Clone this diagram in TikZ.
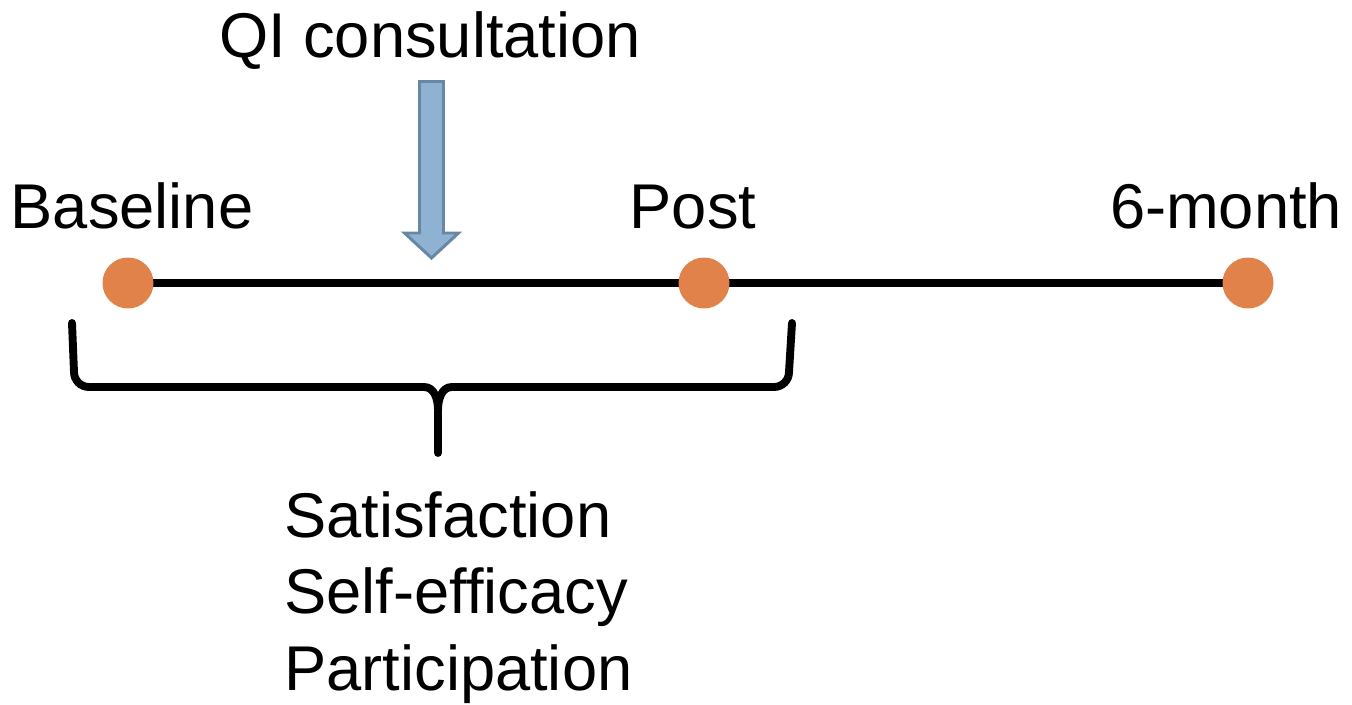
\documentclass[tikz,border=0pt]{standalone}
\usepackage{fontspec}
\setmainfont{Liberation Sans}
\usetikzlibrary{backgrounds}
\definecolor{ink}{HTML}{000000}
\definecolor{dotc}{HTML}{E0824A}
\definecolor{arrf}{HTML}{8FB2D3}
\definecolor{arrd}{HTML}{6787A3}
\tikzset{
  lbl/.style ={font=\fontsize{36}{43.5}\selectfont,text=ink,inner sep=0pt},
  pt/.style  ={circle,fill=dotc,minimum size=1.02cm,inner sep=0pt},
  tl/.style  ={line width=5.1pt,ink},
  brc/.style ={line width=4.5pt,ink,line cap=round,line join=round},
  blk/.style ={fill=arrf,draw=arrd,line width=1.7pt,line join=miter},
}

\begin{document}
\begin{tikzpicture}[x=0.02cm,y=-0.02cm]
\useasboundingbox (0,0) rectangle (1352,705);
% time points
\node[pt] (base) at (128,283) {};
\node[pt] (post) at (704,283) {};
\node[pt] (six)  at (1248,283) {};
\begin{scope}[on background layer]
  \draw[tl] (base.center) -- (post.center) -- (six.center);
\end{scope}
% point labels
\node[lbl,anchor=base] (lbase) at (132,229) {Baseline};
\node[lbl,anchor=base] (lpost) at (693,229) {Post};
\node[lbl,anchor=base] (lsix)  at (1226,229) {6-month};
% intervention
\node[lbl,anchor=base] (qi) at (430,58) {QI consultation};
\filldraw[blk] (419.5,81.5) -- (443.5,81.5) -- (443.5,233) -- (458.5,233) -- (431.5,258)
  -- (404.5,233) -- (419.5,233) -- cycle;
% brace over baseline--post
\draw[brc] (72,323) -- (74,372) to[out=-90,in=180] (89,387) -- (424,387)
  to[out=0,in=90] (438,410) -- (438,453);
\draw[brc] (438,410) to[out=90,in=180] (452,387) -- (774,387)
  to[out=0,in=-90] (789,372) -- (792,323);
% outcomes
\node[lbl,anchor=base west,align=left] (outc) at (284,690) {Satisfaction\\Self-efficacy\\Participation};
\end{tikzpicture}
\end{document}
